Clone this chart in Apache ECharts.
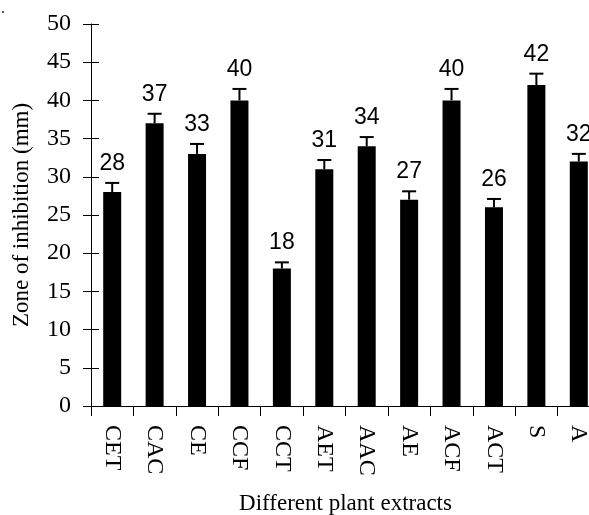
<!DOCTYPE html>
<html>
<head>
<meta charset="utf-8">
<script src="https://cdn.jsdelivr.net/npm/echarts@6/dist/echarts.min.js"></script>
<style>
html,body{margin:0;padding:0;background:#fff;}
#chart{width:589px;height:515px;}
</style>
</head>
<body>
<div id="chart"></div>
<script>
var categories = ['CET','CAC','CE','CCF','CCT','AET','AAC','AE','ACF','ACT','S','A'];
var values = [28, 37, 33, 40, 18, 31, 34, 27, 40, 26, 42, 32];
var errors = [1.2, 1.25, 1.3, 1.5, 0.8, 1.2, 1.2, 1.1, 1.5, 1.1, 1.5, 1.0];
var yTicks = {min: 0, max: 50, interval: 5};

var serif = "'Liberation Serif','Times New Roman',serif";
var sans = "'Liberation Sans',Arial,sans-serif";

var chart = echarts.init(document.getElementById('chart'), null, {renderer: 'canvas'});
var errData = categories.map(function (c, i) { return [i, values[i], errors[i]]; });

chart.setOption({
  animation: false,
  backgroundColor: '#fff',
  grid: {left: 91, top: 24, bottom: 109, right: -11, containLabel: false, outerBoundsMode: 'none'},
  xAxis: {
    type: 'category',
    data: categories,
    name: 'Different plant extracts',
    nameLocation: 'middle',
    nameGap: 86,
    nameTextStyle: {fontFamily: serif, fontSize: 23, color: '#000'},
    axisLine: {lineStyle: {color: '#000', width: 1}},
    axisTick: {show: true, length: 10, lineStyle: {color: '#000', width: 1}},
    axisLabel: {rotate: -90, margin: 19, fontFamily: serif, fontSize: 24, color: '#000'}
  },
  yAxis: [{
    type: 'value',
    min: yTicks.min, max: yTicks.max, interval: yTicks.interval,
    name: 'Zone of inhibition (mm)',
    nameLocation: 'middle',
    nameGap: 58,
    nameRotate: 90,
    nameTextStyle: {fontFamily: serif, fontSize: 23, color: '#000'},
    axisLine: {show: true, lineStyle: {color: '#000', width: 1}},
    axisTick: {show: true, length: 8, lineStyle: {color: '#000', width: 1}},
    axisLabel: {margin: 20, fontFamily: serif, fontSize: 24, color: '#000'},
    splitLine: {show: false}
  }, {
    type: 'value',
    position: 'left',
    min: yTicks.min, max: yTicks.max, interval: yTicks.interval,
    axisLine: {show: false},
    axisTick: {show: true, inside: true, length: 8, lineStyle: {color: '#000', width: 1}},
    axisLabel: {show: false},
    splitLine: {show: false}
  }],
  graphic: [
    {type: 'rect', shape: {x: 2, y: 11, width: 2, height: 2}, style: {fill: '#555'}}
  ],
  series: [{
    type: 'bar',
    data: values,
    barWidth: 18,
    itemStyle: {color: '#000'},
    z: 2
  }, {
    type: 'custom',
    data: errData,
    z: 3,
    renderItem: function (params, api) {
      var i = api.value(0);
      var v = api.value(1);
      var e = api.value(2);
      var top = api.coord([i, v]);
      var cap = api.coord([i, v + e]);
      var hw = 7;
      return {
        type: 'group',
        children: [
          {type: 'line', shape: {x1: top[0], y1: top[1], x2: cap[0], y2: cap[1]}, style: {stroke: '#000', lineWidth: 2}},
          {type: 'line', shape: {x1: cap[0] - hw, y1: cap[1], x2: cap[0] + hw, y2: cap[1]}, style: {stroke: '#000', lineWidth: 2}},
          {type: 'text', x: cap[0], y: cap[1] - 8, style: {text: String(values[params.dataIndex]), fontFamily: sans, fontSize: 23, fill: '#000', align: 'center', verticalAlign: 'bottom'}}
        ]
      };
    }
  }]
});
</script>
</body>
</html>
